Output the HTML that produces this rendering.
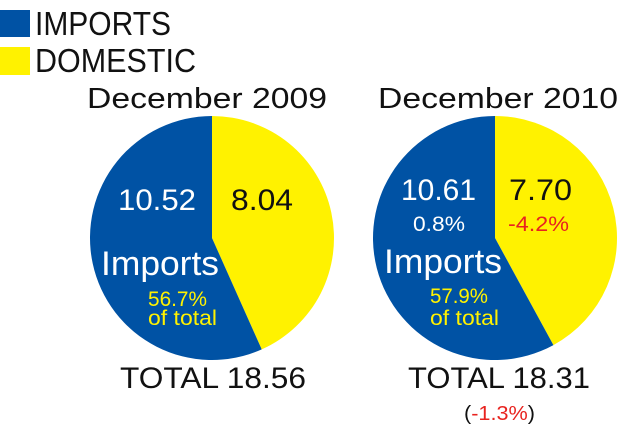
<!DOCTYPE html>
<html><head><meta charset="utf-8"><style>
html,body{margin:0;padding:0;background:#fff;width:640px;height:431px;overflow:hidden}
svg text{font-family:"Liberation Sans",sans-serif}
</style></head><body>
<svg id="chart" width="640" height="431" viewBox="0 0 640 431" xmlns="http://www.w3.org/2000/svg">
<g>
<rect x="0" y="10" width="30" height="27" fill="#0052a4"/>
<text x="35" y="35" font-size="33" textLength="136" lengthAdjust="spacingAndGlyphs" fill="#111">IMPORTS</text>
<rect x="0" y="47" width="30" height="28" fill="#fff200"/>
<text x="35" y="72" font-size="33" textLength="161" lengthAdjust="spacingAndGlyphs" fill="#111">DOMESTIC</text>
</g>
<g id="pies"></g>
<g>
<text x="87" y="108" font-size="29" textLength="240" lengthAdjust="spacingAndGlyphs" fill="#111">December 2009</text>
<text x="118" y="210" font-size="30" textLength="78" lengthAdjust="spacingAndGlyphs" fill="#fff">10.52</text>
<text x="231" y="210" font-size="30" textLength="62" lengthAdjust="spacingAndGlyphs" fill="#111">8.04</text>
<text x="101" y="275" font-size="34" textLength="118" lengthAdjust="spacingAndGlyphs" fill="#fff">Imports</text>
<text x="148" y="306" font-size="21" textLength="59" lengthAdjust="spacingAndGlyphs" fill="#fff200">56.7%</text>
<text x="148" y="325" font-size="21" textLength="69" lengthAdjust="spacingAndGlyphs" fill="#fff200">of total</text>
<text x="120" y="388" font-size="30" textLength="186" lengthAdjust="spacingAndGlyphs" fill="#111">TOTAL 18.56</text>
</g>
<g>
<text x="378" y="108" font-size="29" textLength="240" lengthAdjust="spacingAndGlyphs" fill="#111">December 2010</text>
<text x="401" y="200" font-size="30" textLength="75" lengthAdjust="spacingAndGlyphs" fill="#fff">10.61</text>
<text x="413" y="231" font-size="21" textLength="52" lengthAdjust="spacingAndGlyphs" fill="#fff">0.8%</text>
<text x="509" y="200" font-size="30" textLength="63" lengthAdjust="spacingAndGlyphs" fill="#111">7.70</text>
<text x="508" y="231" font-size="21" textLength="61" lengthAdjust="spacingAndGlyphs" fill="#e8231f">-4.2%</text>
<text x="384" y="273" font-size="34" textLength="118" lengthAdjust="spacingAndGlyphs" fill="#fff">Imports</text>
<text x="430" y="303" font-size="21" textLength="58" lengthAdjust="spacingAndGlyphs" fill="#fff200">57.9%</text>
<text x="430" y="325" font-size="21" textLength="69" lengthAdjust="spacingAndGlyphs" fill="#fff200">of total</text>
<text x="408" y="388" font-size="30" textLength="182" lengthAdjust="spacingAndGlyphs" fill="#111">TOTAL 18.31</text>
<text x="464" y="420" font-size="20" textLength="71" lengthAdjust="spacingAndGlyphs" fill="#111">(<tspan fill="#e8231f">-1.3%</tspan>)</text>
</g>
</svg>
<script>
const years = ["2009", "2010"];
const importsValues = [10.52, 10.61];
const domesticValues = [8.04, 7.70];

const NS = "http://www.w3.org/2000/svg";
const pies = document.getElementById("pies");
const centersX = [212, 495];
const cy = 238, r = 122;
function pt(cx, frac) {
  const a = frac * 2 * Math.PI;
  return [cx + r * Math.sin(a), cy - r * Math.cos(a)];
}
years.forEach((y, i) => {
  const cx = centersX[i];
  const total = importsValues[i] + domesticValues[i];
  const dFrac = domesticValues[i] / total;
  const top = pt(cx, 0), mid = pt(cx, dFrac);
  const dom = document.createElementNS(NS, "path");
  dom.setAttribute("d", `M${cx},${cy} L${top[0]},${top[1]} A${r},${r} 0 ${dFrac > 0.5 ? 1 : 0} 1 ${mid[0]},${mid[1]} Z`);
  dom.setAttribute("fill", "#fff200");
  
  
  pies.appendChild(dom);
  const imp = document.createElementNS(NS, "path");
  imp.setAttribute("d", `M${cx},${cy} L${mid[0]},${mid[1]} A${r},${r} 0 ${dFrac < 0.5 ? 1 : 0} 1 ${top[0]},${top[1]} Z`);
  imp.setAttribute("fill", "#0052a4");
  
  
  pies.appendChild(imp);
});
</script>
</body></html>
